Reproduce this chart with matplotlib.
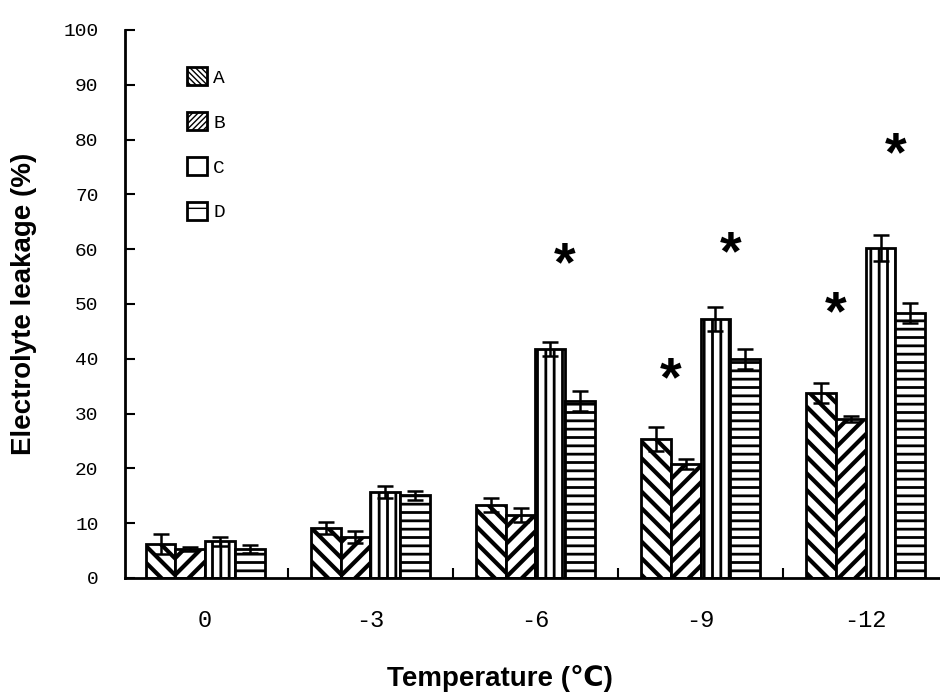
import matplotlib
matplotlib.use('Agg')
import matplotlib.pyplot as plt
from matplotlib.patches import Patch
import numpy as np

# temperature groups and the four treatments
temps = ['0', '-3', '-6', '-9', '-12']
series = ['A', 'B', 'C', 'D']

a_mean = [6.2, 9.1, 13.3, 25.4, 33.8]
a_err = [1.8, 1.1, 1.3, 2.2, 1.8]
b_mean = [5.3, 7.5, 11.5, 20.8, 29.0]
b_err = [0.4, 1.1, 1.3, 0.9, 0.5]
c_mean = [6.7, 15.7, 41.8, 47.3, 60.2]
c_err = [0.8, 1.1, 1.3, 2.2, 2.4]
d_mean = [5.3, 15.1, 32.3, 40.0, 48.4]
d_err = [0.7, 0.8, 1.8, 1.8, 1.8]

# significance stars: group index, pair of bars, height
star_group = [2, 3, 3, 4, 4]
star_pair = ['CD', 'AB', 'CD', 'AB', 'CD']
star_y = [59, 38, 61, 50, 79]

plt.rcParams['font.family'] = 'Liberation Sans'

fig = plt.figure(figsize=(9.4, 6.92), dpi=100)
ax = fig.add_axes([125 / 940, 114 / 692, 815 / 940, 548 / 692])

x = np.arange(len(temps))
w = 0.18
means = [a_mean, b_mean, c_mean, d_mean]
errs = [a_err, b_err, c_err, d_err]
hatches = ['\\\\', '//', '||', '--']
hatch_lw = [3.0, 3.0, 2.0, 2.0]
leg_hatches = ['\\\\\\\\\\\\', '//////', '', '-']

handles = []
for k in range(4):
    with plt.rc_context({'hatch.linewidth': hatch_lw[k], 'hatch.color': 'black'}):
        b = ax.bar(x + (k - 1.5) * w, means[k], w, color='white',
                   edgecolor='black', linewidth=2, hatch=hatches[k],
                   zorder=2)
        for p in b:
            try:
                p.set_hatch_linewidth(hatch_lw[k])
            except AttributeError:
                pass
        h = Patch(facecolor='white', edgecolor='black', linewidth=2,
                  hatch=leg_hatches[k])
        try:
            h.set_hatch_linewidth(3.0)
        except AttributeError:
            pass
    handles.append(h)
    ax.errorbar(x + (k - 1.5) * w, means[k], yerr=errs[k], fmt='none',
                ecolor='black', elinewidth=1.8, capsize=6, capthick=1.8,
                zorder=3)

for g, pr, yy in zip(star_group, star_pair, star_y):
    xs = g + (-w if pr == 'AB' else w)
    ax.annotate('*', (xs, yy), xytext=(0, -8), textcoords='offset points',
                ha='center', va='center', fontsize=40, fontweight='bold',
                zorder=4)

ax.set_ylim(0, 100)
ax.set_xlim(-0.485, 4.45)
ax.set_yticks(np.arange(0, 101, 10))
ax.set_yticklabels([str(v) for v in range(0, 101, 10)],
                   fontfamily='Liberation Mono', fontsize=14)
ax.set_xticks(x)
ax.set_xticklabels(temps, fontfamily='Liberation Mono', fontsize=17)
ax.set_xticks(x[:-1] + 0.5, minor=True)

ax.tick_params(axis='y', direction='in', length=7, width=1.5, pad=19)
ax.tick_params(axis='x', which='major', length=0, pad=22)
ax.tick_params(axis='x', which='minor', direction='in', length=7, width=1.5)

for s in ['top', 'right']:
    ax.spines[s].set_visible(False)
for s in ['left', 'bottom']:
    ax.spines[s].set_linewidth(2)

ax.set_ylabel('Electrolyte leakage (%)', fontsize=20, fontweight='bold',
              labelpad=19)
fig.text(500 / 940, 1 - 678 / 692, 'Temperature (℃)', fontsize=20,
         fontweight='bold', ha='center', va='center',
         family=['Liberation Sans', 'DejaVu Sans'])

ax.legend(handles=handles, labels=series, loc='upper left',
          bbox_to_anchor=(187 / 940, 1 - 67 / 692),
          bbox_transform=fig.transFigure, frameon=False, borderpad=0,
          borderaxespad=0, handlelength=1.05, handleheight=1.05,
          handletextpad=0.3, labelspacing=1.3,
          prop={'family': 'Liberation Mono', 'size': 14})

fig.savefig('out.png', dpi=100)
